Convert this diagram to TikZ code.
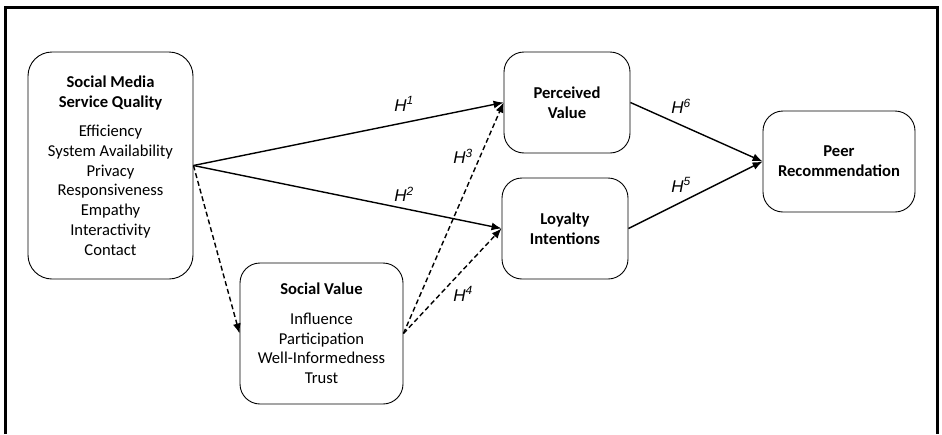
\documentclass[tikz,border=0pt]{standalone}
\usepackage{fontspec}
\setmainfont{Carlito}
\newfontfamily\hfont{Liberation Sans}
\usetikzlibrary{arrows.meta}
\begin{document}
\begin{tikzpicture}[x=1pt,y=-1pt,
  box/.style={draw, rounded corners=20pt, line width=0.9pt, align=center, inner sep=0pt,
    font=\fontsize{16.6}{19.7}\selectfont},
  conn/.style={line width=1.4pt, -{Latex[length=10pt,width=8pt]}},
  dconn/.style={conn, dash pattern=on 5pt off 3pt},
  hyp/.style={font=\fontsize{17}{20}\selectfont\hfont\itshape, inner sep=0pt}]
\useasboundingbox (0,0) rectangle (942,434);
\draw[line width=3pt] (5.5,434) -- (5.5,7.5) -- (937,7.5) -- (937,434);

\node[box, rounded corners=24pt, minimum width=165pt, minimum height=227pt] (smsq) at (110.5,165.5)
  {\textbf{Social Media}\\\textbf{Service Quality}\\[10pt]Efficiency\\System Availability\\Privacy\\Responsiveness\\Empathy\\Interactivity\\Contact};
\node[box, minimum width=163pt, minimum height=141pt] (sv) at (321.5,333.5)
  {\textbf{Social Value}\\[10pt]Influence\\Participation\\Well-Informedness\\Trust};
\node[box, minimum width=126pt, minimum height=101pt] (pv) at (567,102.5)
  {\textbf{Perceived}\\\textbf{Value}};
\node[box, minimum width=126pt, minimum height=101pt] (li) at (565,228.5)
  {\textbf{Loyalty}\\\textbf{Intentions}};
\node[box, minimum width=152pt, minimum height=101pt] (pr) at (839,161.5)
  {\textbf{Peer}\\\textbf{Recommendation}};

\draw[conn] (smsq.east) -- (pv.west);
\draw[conn] (smsq.east) -- (li.west);
\draw[dconn] (smsq.east) -- (sv.west);
\draw[dconn] (sv.east) -- (pv.west);
\draw[dconn] (sv.east) -- (li.west);
\draw[conn] (pv.east) -- (pr.west);
\draw[conn] (li.east) -- (pr.west);

\node[hyp] (h1) at (404,104) {H\textsuperscript{1}};
\node[hyp] (h2) at (404,194) {H\textsuperscript{2}};
\node[hyp] (h3) at (463,156) {H\textsuperscript{3}};
\node[hyp] (h4) at (463,294) {H\textsuperscript{4}};
\node[hyp] (h5) at (681,185) {H\textsuperscript{5}};
\node[hyp] (h6) at (681,106) {H\textsuperscript{6}};
\end{tikzpicture}
\end{document}
